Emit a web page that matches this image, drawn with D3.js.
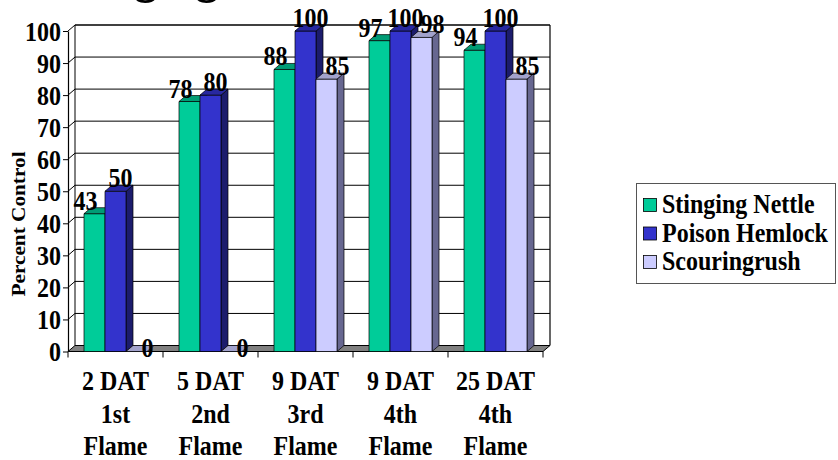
<!DOCTYPE html>
<html>
<head>
<meta charset="utf-8">
<script src="https://cdn.jsdelivr.net/npm/d3@7"></script>
<style>
  html, body { margin: 0; padding: 0; background: #fff; }
  svg { display: block; }
  text { font-family: "Liberation Serif", "Times New Roman", "DejaVu Serif", serif; font-weight: bold; fill: #000; }
</style>
</head>
<body>
<svg id="chart" width="838" height="460"></svg>
<script>
// Categories (three-line labels) and percent control per species
const categories = ["2 DAT|1st|Flame", "5 DAT|2nd|Flame", "9 DAT|3rd|Flame", "9 DAT|4th|Flame", "25 DAT|4th|Flame"];
const seriesNames = ["Stinging Nettle", "Poison Hemlock", "Scouringrush"];
const stingingNettle = [43, 78, 88, 97, 94];
const poisonHemlock = [50, 80, 100, 100, 100];
const scouringrush = [0, 0, 85, 98, 85];
const yTicks = [0, 10, 20, 30, 40, 50, 60, 70, 80, 90, 100];
const titleText = "Stinging Nettle";
const yTitle = "Percent Control";

const seriesValues = [stingingNettle, poisonHemlock, scouringrush];
const palette = [
  { front: "#00CC99", top: "#009C75", side: "#006B50" },
  { front: "#3333CC", top: "#2828A0", side: "#1C1C6C" },
  { front: "#CCCCFF", top: "#A2A2CC", side: "#676790" }
];
const labelShift = [-9, 5, 11];

const svg = d3.select("#chart");
const SY = 1.12;             // vertical stretch of the lettering
const DX = 7, DY = -6;       // 3-D depth offset

const x = d3.scaleBand().domain(categories).range([68, 543]).padding(0);
const xs = d3.scaleBand().domain(d3.range(seriesNames.length)).range([16, 79]).padding(0);
const y = d3.scaleLinear().domain([0, 100]).range([351.5, 31]);

function stretchedText(parent, tx, ty, str, size, anchor, rotate) {
  const g = parent.append("g").attr("transform", `translate(${tx},${ty}) scale(1,${SY})` + (rotate ? ` rotate(${rotate})` : ""));
  return g.append("text").attr("text-anchor", anchor).style("font-size", size + "px").text(str);
}

// Title (runs off the top edge)
stretchedText(svg, 55, -8, titleText, 46, "start");

// Floor
const y0 = y(0);
svg.append("polygon")
  .attr("points", [[68, y0], [543, y0], [543 + DX, y0 + DY], [68 + DX, y0 + DY]].map(p => p.join(",")).join(" "))
  .attr("fill", "#808080").attr("stroke", "#000").attr("stroke-width", 1);

// Back wall gridlines and left wall diagonals
const grid = svg.append("g");
yTicks.filter(t => t > 0).forEach(t => {
  const yy = y(t);
  grid.append("line").attr("x1", 68 + DX).attr("x2", 543 + DX).attr("y1", yy + DY).attr("y2", yy + DY)
    .attr("stroke", "#000").attr("stroke-width", t === 100 ? 1.6 : 1);
  grid.append("line").attr("x1", 68).attr("x2", 68 + DX).attr("y1", yy).attr("y2", yy + DY)
    .attr("stroke", "#000").attr("stroke-width", 1);
});
// wall edges
svg.append("line").attr("x1", 68 + DX).attr("x2", 68 + DX).attr("y1", y(100) + DY).attr("y2", y0 + DY).attr("stroke", "#000");
svg.append("line").attr("x1", 543 + DX).attr("x2", 543 + DX).attr("y1", y(100) + DY).attr("y2", y0 + DY).attr("stroke", "#000").attr("stroke-width", 1.2);

// Y axis
const yAxis = svg.append("g").attr("transform", "translate(68,0)")
  .call(d3.axisLeft(y).tickValues(yTicks).tickSize(5).tickSizeOuter(0).tickFormat(d3.format("d")));
yAxis.select(".domain").attr("stroke", "#000").attr("stroke-width", 1.2);
yAxis.selectAll(".tick line").attr("stroke", "#000");
yAxis.selectAll(".tick text")
  .attr("x", -7).attr("dy", "0.34em")
  .attr("transform", `scale(1,${SY})`)
  .style("font-size", "24px").style("font-family", "'Liberation Serif', 'Times New Roman', serif").style("font-weight", "bold").attr("fill", "#000");

// Y axis title
stretchedText(svg, 25, 224, yTitle, 19, "middle", -90);

// Category ticks along the front edge of the floor
const catTicks = categories.map(c => x(c)).concat([x.range()[1]]);
svg.append("g").selectAll("line").data(catTicks).join("line")
  .attr("x1", d => d).attr("x2", d => d).attr("y1", y0).attr("y2", y0 + 6)
  .attr("stroke", "#000");

// Category labels
categories.forEach(c => {
  const cx = x(c) + x.bandwidth() / 2;
  c.split("|").forEach((line, i) => {
    stretchedText(svg, cx, 390 + i * 32.5, line, 24, "middle");
  });
});

// Bars, drawn left to right so each bar hides its neighbour's side face
const bars = svg.append("g");
const labels = svg.append("g");
categories.forEach((c, ci) => {
  seriesValues.forEach((vals, si) => {
    const v = vals[ci];
    const col = palette[si];
    const bx = x(c) + xs(si);
    const w = xs.bandwidth();
    const yt = y(v);
    const g = bars.append("g").attr("stroke", "#000").attr("stroke-width", 0.7).attr("stroke-linejoin", "round");
    if (v > 0) {
      g.append("polygon")
        .attr("points", [[bx + w, yt], [bx + w + DX, yt + DY], [bx + w + DX, y0 + DY], [bx + w, y0]].map(p => p.join(",")).join(" "))
        .attr("fill", col.side);
      g.append("rect").attr("x", bx).attr("y", yt).attr("width", w).attr("height", y0 - yt).attr("fill", col.front);
    }
    g.append("polygon")
      .attr("points", [[bx, yt], [bx + w, yt], [bx + w + DX, yt + DY], [bx + DX, yt + DY]].map(p => p.join(",")).join(" "))
      .attr("fill", col.top);
    stretchedText(labels, bx + w / 2 + labelShift[si], yt - 4 + (v === 0 ? 9 : 0), String(v), 24, "middle");
  });
});

// Legend
const lg = svg.append("g");
lg.append("rect").attr("x", 636.5).attr("y", 183.5).attr("width", 199).attr("height", 100)
  .attr("fill", "#fff").attr("stroke", "#555").attr("stroke-width", 1);
seriesNames.forEach((name, i) => {
  const by = 213 + i * 28.5;
  lg.append("rect").attr("x", 643.5).attr("y", by - 14.5).attr("width", 13).attr("height", 13)
    .attr("fill", palette[i].front).attr("stroke", "#000").attr("stroke-width", 0.8);
  stretchedText(lg, 662, by, name, 24, "start");
});
</script>
</body>
</html>
